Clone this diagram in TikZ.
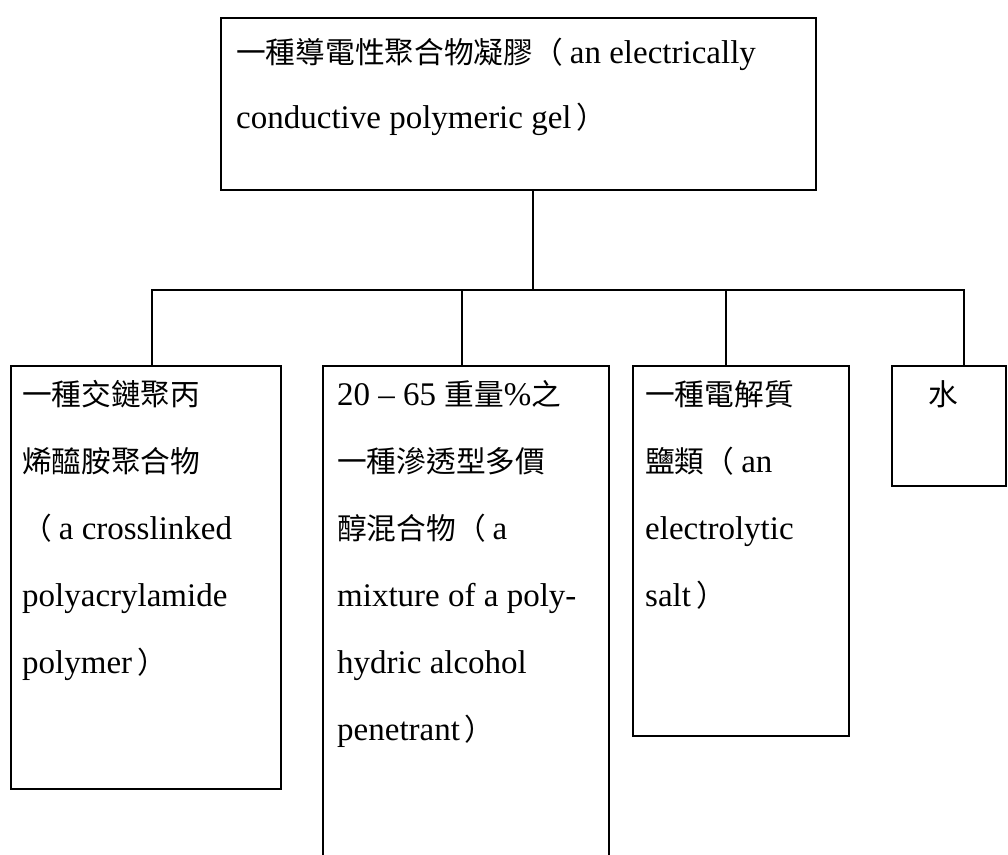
\documentclass[tikz,border=0pt]{standalone}
\usepackage{fontspec}
\setmainfont{Liberation Serif}
\newfontfamily\cjk[Scale=0.9]{Noto Sans CJK TC}
\newcommand\lp{{\cjk （}\hspace{7pt}}
\newcommand\rp{\hspace{5pt}{\cjk ）}}
\begin{document}
\begin{tikzpicture}[x=1pt,y=-1pt,
  box/.style={draw, line width=1.8pt, inner sep=0pt, anchor=north west},
  txt/.style={anchor=base west, inner sep=0pt, font=\fontsize{33}{67}\selectfont},
  link/.style={line width=1.8pt}]
\useasboundingbox (0,0) rectangle (1008,854);
\clip (0,0) rectangle (1008,854);
% boxes
\node[box, minimum width=595pt, minimum height=172pt] (top) at (220,17) {};
\node[box, minimum width=270pt, minimum height=423pt] (b1) at (10,365) {};
\node[box, minimum width=286pt, minimum height=520pt] (b2) at (322,365) {};
\node[box, minimum width=216pt, minimum height=370pt] (b3) at (632,365) {};
\node[box, minimum width=114pt, minimum height=120pt] (b4) at (891,365) {};
% connectors
\coordinate (bar) at (0,290);
\coordinate (v0) at (533,0);
\coordinate (v1) at (152,0);
\coordinate (v2) at (462,0);
\coordinate (v3) at (726,0);
\coordinate (v4) at (964,0);
\draw[link] (v0 |- top.south) -- (v0 |- bar);
\draw[link] (v1 |- b1.north) -- (v1 |- bar) -- (v4 |- bar) -- (v4 |- b4.north);
\draw[link] (v2 |- bar) -- (v2 |- b2.north);
\draw[link] (v3 |- bar) -- (v3 |- b3.north);
% top text
\node[txt] (t1) at (236,63) {{\cjk 一種導電性聚合物凝膠}\lp an electrically};
\node[txt] (t2) at (236,128) {conductive polymeric gel\rp};
% box 1
\node[txt] (a1) at (22,405) {\cjk 一種交鏈聚丙};
\node[txt] (a2) at (22,472) {\cjk 烯醯胺聚合物};
\node[txt] (a3) at (22,539) {\lp a crosslinked};
\node[txt] (a4) at (22,606) {polyacrylamide};
\node[txt] (a5) at (22,673) {polymer\rp};
% box 2
\node[txt] (c1) at (337,405) {20 -- 65 {\cjk 重量}\%{\cjk 之}};
\node[txt] (c2) at (337,472) {\cjk 一種滲透型多價};
\node[txt] (c3) at (337,539) {{\cjk 醇混合物}\lp a};
\node[txt] (c4) at (337,606) {mixture of a poly-};
\node[txt] (c5) at (337,673) {hydric alcohol};
\node[txt] (c6) at (337,740) {penetrant\rp};
% box 3
\node[txt] (d1) at (645,405) {\cjk 一種電解質};
\node[txt] (d2) at (645,472) {{\cjk 鹽類}\lp an};
\node[txt] (d3) at (645,539) {electrolytic};
\node[txt] (d4) at (645,606) {salt\rp};
% box 4
\node[txt] (e1) at (928,405) {\cjk 水};
\end{tikzpicture}
\end{document}
